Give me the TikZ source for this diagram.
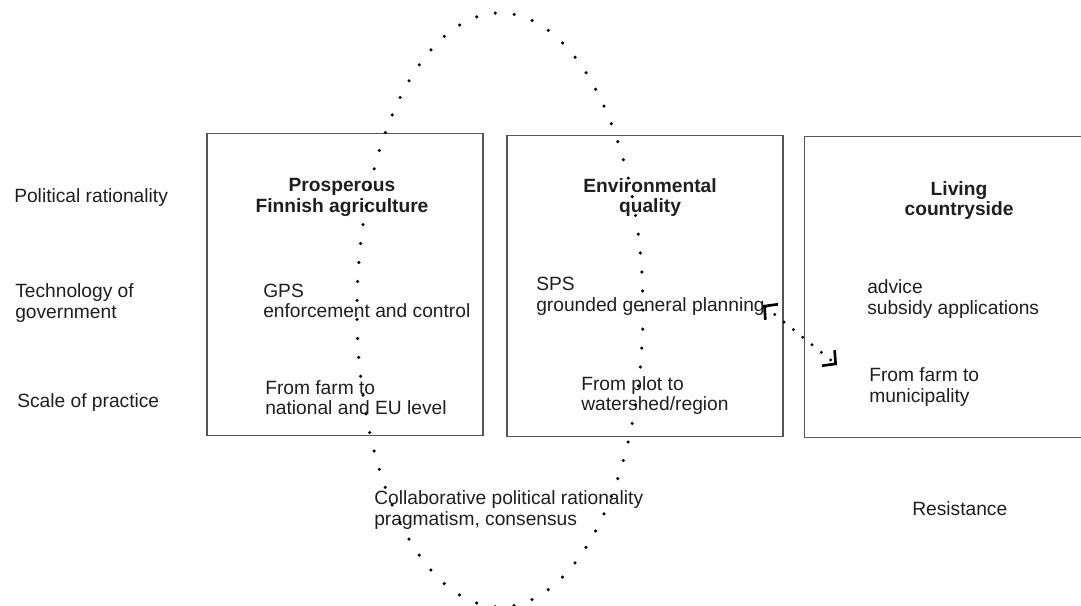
\documentclass[tikz,border=0pt]{standalone}
\usepackage{fontspec}
\setmainfont{Liberation Sans}
\usetikzlibrary{arrows.meta, positioning}
\definecolor{boxgray}{RGB}{85,85,85}
\definecolor{txtgray}{RGB}{30,30,30}

\begin{document}
\begin{tikzpicture}[x=0.75pt, y=-0.75pt,
    lbl/.style={anchor=west, align=left, inner sep=0pt, text=txtgray,
      font=\fontsize{14.4}{15.5}\selectfont},
    ttl/.style={align=center, inner sep=0pt, text=txtgray,
      font=\fontsize{14.4}{15.5}\selectfont\bfseries},
    panel/.style={draw=boxgray, line width=0.8pt, inner sep=0pt, outer sep=0pt,
      minimum width=207pt, minimum height=226pt},
    dotline/.style={line width=2.6pt, line cap=round, dash pattern=on 0pt off 14.25pt},
    dotarrow/.style={line width=2.4pt, line cap=round, dash pattern=on 0pt off 9pt,
      {Straight Barb[length=7pt, width=15pt, line width=2pt]}-{Straight Barb[length=7pt, width=15pt, line width=2pt]}}]
  \clip (0,0) rectangle (1081,606);

  % row labels
  \node[lbl] (polrat) at (14,198) {Political rationality};
  \node[lbl] (techgov) at (15,303) {Technology of\\government};
  \node[lbl] (scaleprac) at (17,403) {Scale of practice};

  % panels
  \node[panel] (agri) at (345,284.5) {};
  \node[panel] (env) at (645,286) {};
  \node[panel, minimum width=214pt] (liv) at (947.5,287) {};

  \node[ttl] (agrititle) at (342,197.5) {Prosperous\\Finnish agriculture};
  \node[lbl] (gps) at (263,301) {GPS\\enforcement and control};
  \node[lbl] (farmeu) at (265,397.5) {From farm to\\national and EU level};

  \node[ttl] (envtitle) at (650,197.5) {Environmental\\quality};
  \node[lbl] (sps) at (536,296.5) {SPS\\grounded general planning};
  \node[lbl] (plotreg) at (581,395.5) {From plot to\\watershed/region};

  \node[ttl] (livtitle) at (959,200.5) {Living\\countryside};
  \node[lbl] (advice) at (867,299) {advice\\subsidy applications};
  \node[lbl] (farmmun) at (869,387) {From farm to\\municipality};

  \node[lbl] (collab) at (374,510) {Collaborative political rationality\\pragmatism, consensus};
  \node[lbl] (resist) at (912,509) {Resistance};

  % collaboration loop and tension arrow
  \draw[dotline] (500,310) ellipse [x radius=107.25pt, y radius=222.75pt];
  \coordinate (planend) at (763,305);
  \coordinate (munend) at (837,365);
  \draw[dotarrow] (planend) -- (munend);
\end{tikzpicture}
\end{document}
